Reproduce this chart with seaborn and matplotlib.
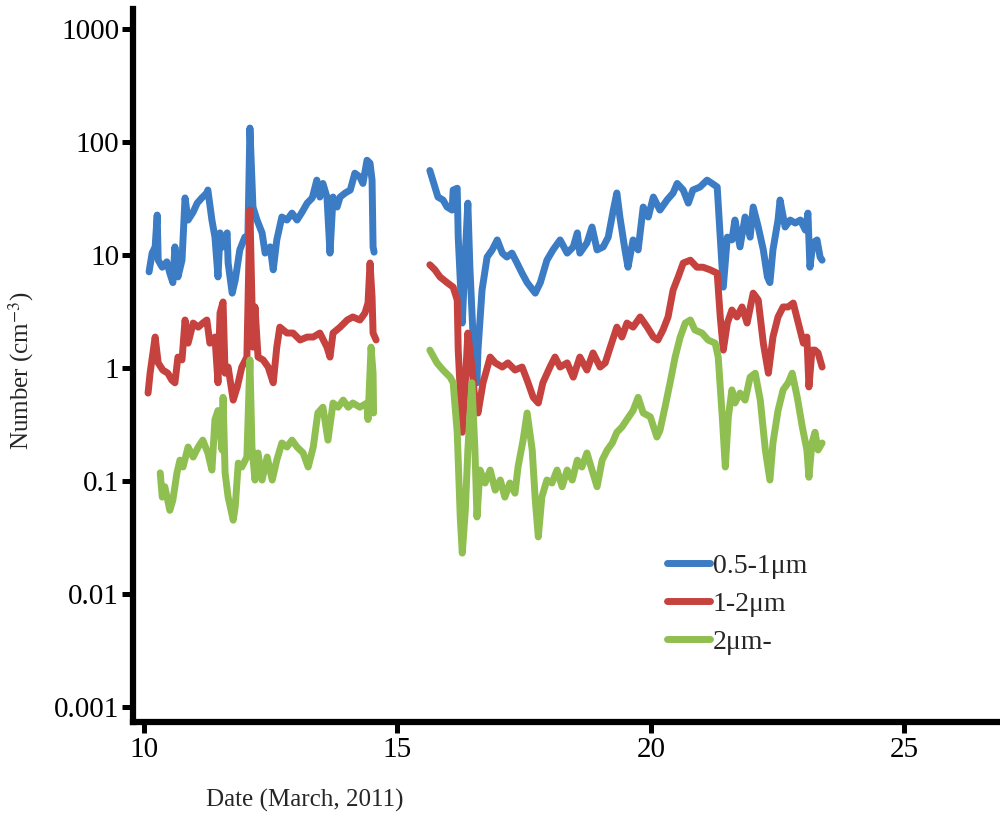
import numpy as np
import pandas as pd
import matplotlib
matplotlib.use("Agg")
import matplotlib.pyplot as plt
import seaborn as sns
from matplotlib.ticker import FixedLocator, FixedFormatter, NullLocator

# ---------------- data ----------------
series_names = ["0.5-1\u03bcm", "1-2\u03bcm", "2\u03bcm-"]

blue_d1 = [10.10, 10.16, 10.22, 10.26, 10.28, 10.36, 10.45, 10.51, 10.57, 10.61, 10.67, 10.75, 10.81, 10.87,
           10.97, 11.05, 11.14, 11.24, 11.26, 11.34, 11.40, 11.46, 11.50, 11.56, 11.64, 11.66, 11.74, 11.80,
           11.89, 11.99, 12.05, 12.09, 12.15, 12.23, 12.33, 12.39, 12.49, 12.55, 12.62, 12.72, 12.82, 12.92,
           13.02, 13.12, 13.22, 13.32, 13.41, 13.47, 13.53, 13.61, 13.67, 13.73, 13.81, 13.87, 13.97, 14.07,
           14.16, 14.26, 14.32, 14.40, 14.46, 14.50, 14.52, 14.54]
blue_v1 = [7.1, 10.4, 11.8, 22.6, 9.0, 7.8, 8.7, 6.9, 5.7, 11.8, 6.4, 9.0, 32, 20.4,
           24, 28.8, 32, 35.4, 37.6, 20.4, 14.4, 6.4, 15.7, 11.8, 15.7, 8.5, 4.6, 6.0,
           11.1, 14.4, 14.4, 133, 26.6, 20.4, 15.7, 10.4, 11.8, 7.4, 13.6, 21.7, 20.4, 23.5,
           20.4, 24, 28.8, 32, 46, 32.6, 43, 32.6, 10.4, 32.6, 26.6, 32.6, 35.4, 37.6,
           53, 49, 43, 69, 65, 46, 11.8, 10.6]

blue_d2 = [15.64, 15.74, 15.80, 15.90, 15.98, 16.08, 16.10, 16.18, 16.20, 16.28, 16.34, 16.39, 16.43, 16.49,
           16.57, 16.59, 16.67, 16.77, 16.87, 16.97, 17.07, 17.16, 17.26, 17.36, 17.46, 17.56, 17.72, 17.82,
           17.95, 18.07, 18.21, 18.35, 18.47, 18.55, 18.60, 18.74, 18.84, 18.94, 19.06, 19.16, 19.26, 19.33,
           19.39, 19.49, 19.55, 19.65, 19.75, 19.85, 19.95, 20.05, 20.18, 20.32, 20.44, 20.52, 20.64, 20.74,
           20.83, 20.97, 21.11, 21.21, 21.31, 21.37, 21.43, 21.51, 21.60, 21.66, 21.76, 21.86, 21.96, 22.02,
           22.12, 22.22, 22.30, 22.35, 22.41, 22.51, 22.55, 22.65, 22.75, 22.85, 22.95, 23.05, 23.10, 23.14,
           23.20, 23.28, 23.34, 23.38]
blue_v2 = [56, 40, 32.6, 30.7, 26.6, 25, 37.6, 39, 14.4, 2.5, 10.4, 28.8, 7.8, 2.04,
           0.74, 1.44, 4.9, 9.6, 11.1, 13.6, 10.4, 9.6, 10.4, 8.5, 6.9, 5.7, 4.6, 5.7,
           9.0, 11.1, 13.6, 10.4, 11.8, 15.7, 10.4, 12.8, 17.7, 11.1, 11.8, 14.4, 25, 35.4,
           21.7, 11.1, 7.8, 13.6, 11.1, 26.6, 21.7, 32.6, 25, 30.7, 35.4, 43, 37.6, 28.8,
           37.6, 40, 46, 43, 40, 14.4, 5.2, 14.4, 13.6, 20.4, 11.8, 21.7, 14.4, 26.6,
           17.7, 11.1, 6.4, 5.7, 11.1, 20.4, 30.7, 17.7, 20.4, 19.2, 20.4, 16.6, 23.5, 7.8,
           12.8, 13.6, 9.6, 9.0]

red_d1 = [10.08, 10.12, 10.22, 10.28, 10.37, 10.47, 10.55, 10.61, 10.67, 10.75, 10.81, 10.87, 10.97, 11.07,
          11.16, 11.24, 11.30, 11.40, 11.46, 11.50, 11.56, 11.60, 11.66, 11.76, 11.84, 11.93, 12.03, 12.09,
          12.15, 12.19, 12.25, 12.35, 12.45, 12.55, 12.62, 12.68, 12.82, 12.94, 13.08, 13.22, 13.34, 13.47,
          13.61, 13.67, 13.73, 13.87, 14.01, 14.12, 14.26, 14.36, 14.42, 14.46, 14.50, 14.52, 14.58]
red_v1 = [0.60, 0.90, 1.88, 1.11, 0.96, 0.90, 0.78, 0.74, 1.25, 1.18, 2.66, 1.66, 2.5, 2.3,
          2.5, 2.66, 1.66, 1.88, 0.74, 3.07, 3.84, 0.90, 1.02, 0.52, 0.68, 1.02, 1.25, 25,
          1.53, 3.47, 1.25, 1.18, 1.02, 0.74, 1.53, 2.3, 2.04, 2.04, 1.77, 1.88, 1.88, 2.04,
          1.53, 1.25, 2.04, 2.3, 2.66, 2.83, 2.66, 3.07, 3.76, 8.5, 4.25, 2.04, 1.77]

red_d2 = [15.64, 15.74, 15.84, 15.98, 16.10, 16.18, 16.20, 16.28, 16.34, 16.39, 16.47, 16.53, 16.59, 16.69,
          16.83, 16.93, 17.07, 17.18, 17.32, 17.46, 17.56, 17.68, 17.78, 17.87, 18.01, 18.11, 18.21, 18.35,
          18.47, 18.60, 18.74, 18.86, 19.00, 19.10, 19.20, 19.33, 19.43, 19.53, 19.65, 19.79, 19.93, 20.05,
          20.14, 20.24, 20.34, 20.44, 20.54, 20.64, 20.78, 20.91, 21.03, 21.17, 21.31, 21.37, 21.43, 21.51,
          21.60, 21.70, 21.80, 21.90, 22.02, 22.12, 22.22, 22.32, 22.41, 22.51, 22.61, 22.71, 22.81, 22.91,
          23.01, 23.08, 23.12, 23.18, 23.24, 23.30, 23.38]
red_v2 = [8.2, 7.4, 6.4, 5.7, 5.2, 4.0, 1.44, 0.27, 0.74, 2.04, 1.02, 0.52, 0.40, 0.74,
          1.25, 1.11, 1.02, 1.11, 0.96, 1.02, 0.78, 0.55, 0.49, 0.74, 1.02, 1.25, 1.02, 1.11,
          0.83, 1.25, 0.96, 1.36, 1.02, 1.11, 1.53, 2.3, 1.88, 2.5, 2.3, 2.83, 2.3, 1.88,
          1.77, 2.17, 2.83, 4.9, 6.4, 8.5, 9.0, 7.8, 7.8, 7.4, 6.9, 2.83, 1.44, 2.5,
          3.26, 2.83, 3.47, 2.5, 4.6, 4.0, 1.66, 0.90, 1.88, 2.83, 3.47, 3.47, 3.76, 2.5,
          1.66, 1.88, 0.68, 1.44, 1.44, 1.36, 1.02]

green_d1 = [10.32, 10.36, 10.41, 10.51, 10.57, 10.65, 10.71, 10.77, 10.87, 10.97, 11.07, 11.16, 11.26, 11.34,
            11.40, 11.46, 11.54, 11.56, 11.60, 11.66, 11.76, 11.80, 11.86, 11.93, 12.03, 12.09, 12.13, 12.19,
            12.25, 12.33, 12.43, 12.53, 12.62, 12.72, 12.82, 12.92, 13.02, 13.14, 13.24, 13.34, 13.43, 13.53,
            13.63, 13.73, 13.83, 13.93, 14.03, 14.12, 14.26, 14.40, 14.42, 14.48, 14.52, 14.53]
green_v1 = [0.118, 0.072, 0.089, 0.055, 0.068, 0.118, 0.153, 0.133, 0.20, 0.163, 0.20, 0.23, 0.177, 0.125,
            0.35, 0.42, 0.188, 0.55, 0.118, 0.072, 0.045, 0.059, 0.144, 0.133, 0.163, 1.18, 0.20, 0.102,
            0.177, 0.102, 0.163, 0.102, 0.153, 0.217, 0.20, 0.23, 0.20, 0.177, 0.133, 0.20, 0.40, 0.45,
            0.23, 0.49, 0.45, 0.52, 0.45, 0.49, 0.45, 0.49, 0.35, 1.53, 0.90, 0.40]

green_d2 = [15.64, 15.78, 15.90, 16.04, 16.10, 16.18, 16.24, 16.28, 16.34, 16.39, 16.47, 16.53, 16.57, 16.63,
            16.73, 16.83, 16.93, 17.03, 17.12, 17.22, 17.32, 17.38, 17.48, 17.56, 17.66, 17.72, 17.78, 17.85,
            17.95, 18.05, 18.15, 18.25, 18.35, 18.45, 18.55, 18.64, 18.74, 18.84, 18.94, 19.04, 19.14, 19.24,
            19.33, 19.43, 19.53, 19.65, 19.75, 19.85, 19.99, 20.12, 20.18, 20.28, 20.38, 20.48, 20.58, 20.68,
            20.78, 20.87, 21.01, 21.13, 21.27, 21.33, 21.41, 21.47, 21.53, 21.60, 21.66, 21.76, 21.86, 21.96,
            22.06, 22.16, 22.26, 22.35, 22.41, 22.51, 22.61, 22.71, 22.79, 22.89, 22.99, 23.08, 23.12, 23.18,
            23.24, 23.30, 23.38]
green_v2 = [1.44, 1.11, 0.96, 0.83, 0.74, 0.27, 0.048, 0.023, 0.055, 0.188, 0.74, 0.188, 0.048, 0.125,
            0.096, 0.125, 0.083, 0.102, 0.072, 0.096, 0.078, 0.133, 0.23, 0.40, 0.188, 0.068, 0.032, 0.072,
            0.102, 0.096, 0.125, 0.089, 0.125, 0.102, 0.153, 0.133, 0.177, 0.125, 0.089, 0.153, 0.188, 0.217,
            0.27, 0.30, 0.35, 0.42, 0.55, 0.40, 0.37, 0.245, 0.28, 0.45, 0.74, 1.25, 1.88, 2.5,
            2.66, 2.17, 2.04, 1.77, 1.66, 1.25, 0.37, 0.133, 0.37, 0.64, 0.49, 0.60, 0.52, 0.83,
            0.90, 0.52, 0.188, 0.102, 0.217, 0.42, 0.64, 0.74, 0.90, 0.55, 0.30, 0.188, 0.108, 0.217,
            0.27, 0.188, 0.217]

x_ticks = [10, 15, 20, 25]
y_ticks = [0.001, 0.01, 0.1, 1, 10, 100, 1000]
y_tick_labels = ["0.001", "0.01", "0.1", "1", "10", "100", "1000"]
colors = ["#3b7cc4", "#c5423f", "#8fbf50"]

# ---------------- build long table ----------------
frames = []
for name, segs in zip(series_names, [[(blue_d1, blue_v1), (blue_d2, blue_v2)],
                                     [(red_d1, red_v1), (red_d2, red_v2)],
                                     [(green_d1, green_v1), (green_d2, green_v2)]]):
    for k, (d, v) in enumerate(segs):
        frames.append(pd.DataFrame({"date": d, "value": v, "size": name, "seg": k}))
df = pd.concat(frames, ignore_index=True)

# ---------------- plot ----------------
sns.set_style("white")
plt.rcParams["font.family"] = ["Liberation Serif", "DejaVu Serif"]
plt.rcParams["mathtext.fontset"] = "stix"

fig = plt.figure(figsize=(10, 8.23), dpi=100)
ax = fig.add_axes([0.133, 0.1227, 0.867, 0.8663])

sns.lineplot(data=df, x="date", y="value", hue="size", units="seg", estimator=None,
             palette=colors, hue_order=series_names, linewidth=5, ax=ax, legend=True)

ax.set_yscale("log")
ax.set_xlim(9.783, 26.89)
ax.set_ylim(7.36e-4, 1503)
ax.yaxis.set_major_locator(FixedLocator(y_ticks))
ax.yaxis.set_major_formatter(FixedFormatter(y_tick_labels))
ax.yaxis.set_minor_locator(NullLocator())
ax.set_xticks(x_ticks)
ax.set_xticklabels([str(t) for t in x_ticks])

for s in ["top", "right"]:
    ax.spines[s].set_visible(False)
for s in ["left", "bottom"]:
    ax.spines[s].set_linewidth(4.5)
    ax.spines[s].set_color("black")
ax.tick_params(axis="both", which="major", direction="out", length=8, width=3.6,
               labelsize=21, colors="black", pad=2, bottom=True, left=True)
ax.tick_params(axis="x", pad=3)
ax.set_xlabel("")
ax.set_ylabel("")
ax.grid(False)

fig.text(0.305, 0.028, "Date (March, 2011)", ha="center", va="center", fontsize=18)
fig.text(0.021, 0.549, "Number (cm$^{-3}$)", ha="center", va="center", rotation=90, fontsize=18)

handles, labels = ax.get_legend_handles_labels()
leg = ax.legend(handles, labels, loc="upper left", bbox_to_anchor=(0.616, 0.236),
                frameon=False, fontsize=20, handlelength=1.55, handletextpad=0.1,
                labelspacing=0.45, borderpad=0, borderaxespad=0)
for h in leg.get_lines():
    h.set_linewidth(5)

fig.savefig("out.png", dpi=100)
